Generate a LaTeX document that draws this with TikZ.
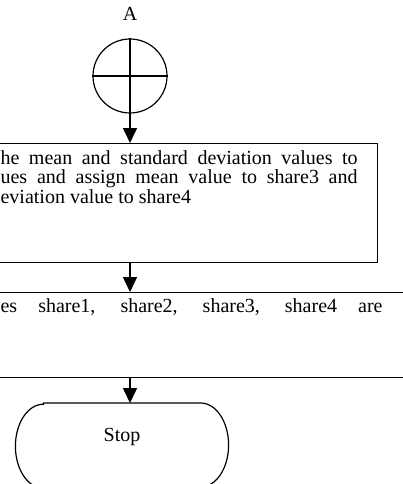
\documentclass[tikz,border=0pt]{standalone}
\usepackage{fontspec}
\setmainfont{Liberation Serif}
\usetikzlibrary{arrows.meta,positioning}

\begin{document}
\begin{tikzpicture}[x=1pt,y=-1pt,>={Triangle[length=15pt,width=14pt]},line width=1.2pt,
  every node/.style={font=\fontsize{20}{19.5}\selectfont}]

    \tikzstyle{process}=[draw,rectangle,inner sep=0pt]
    \tikzstyle{flow}=[->,line width=1.6pt]
    \tikzstyle{textline}=[inner sep=0pt,anchor=north west,align=left]

    \useasboundingbox (0,0) rectangle (403,484);

    \node (lbl) at (130,14) {A};
    \node[draw,circle,minimum size=74pt,inner sep=0pt] (conn) at (130,76) {};
    \draw (conn.north) -- (conn.south) (conn.west) -- (conn.east);

    \node[process,minimum width=420pt,minimum height=119pt,anchor=north east] (calc) at (378,143) {};
    \node[textline] (calctext) at (0,150)
      {\makebox[357pt][s]{he mean and standard deviation values to}\\
       \makebox[357pt][s]{ues and assign mean value to share3 and}\\
       eviation value to share4};

    \node[process,minimum width=460pt,minimum height=85pt,anchor=north] (disp) at (200,292) {};
    \node[textline] (disptext) at (0,298)
      {\makebox[382pt][s]{es share1, share2, share3, share4 are}};

    \node[minimum width=212pt,minimum height=84pt,inner sep=0pt,anchor=north] (stop) at (122,403) {};
    \draw ([xshift=28pt]stop.north west) -- ([xshift=-28pt]stop.north east)
      arc[start angle=90,end angle=-90,x radius=28pt,y radius=42pt]
      -- ([xshift=28pt]stop.south west)
      arc[start angle=270,end angle=90,x radius=28pt,y radius=42pt] -- cycle;
    \node (stoptext) at (122,437) {Stop};

    \draw[flow] (conn.south) -- (conn.south |- calc.north);
    \draw[flow] (calc.south -| conn.south) -- (conn.south |- disp.north);
    \draw[flow] (disp.south -| conn.south) -- (conn.south |- stop.north);
\end{tikzpicture}
\end{document}
